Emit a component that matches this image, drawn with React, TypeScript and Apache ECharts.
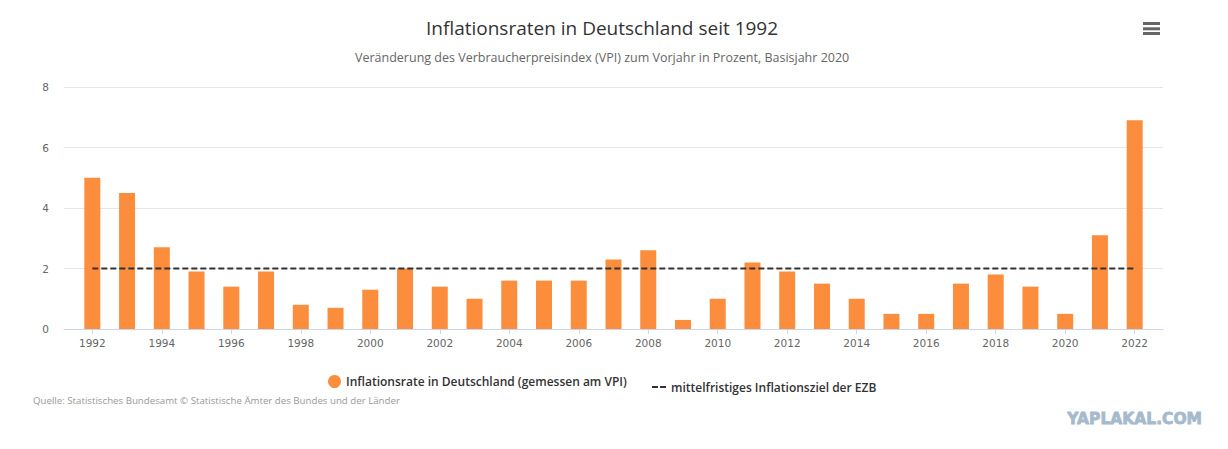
import React, { useEffect, useRef } from "react";
import * as echarts from "echarts";

const years = [1992, 1993, 1994, 1995, 1996, 1997, 1998, 1999, 2000, 2001, 2002, 2003, 2004, 2005, 2006, 2007, 2008, 2009, 2010, 2011, 2012, 2013, 2014, 2015, 2016, 2017, 2018, 2019, 2020, 2021, 2022];
const inflation = [5.0, 4.5, 2.7, 1.9, 1.4, 1.9, 0.8, 0.7, 1.3, 2.0, 1.4, 1.0, 1.6, 1.6, 1.6, 2.3, 2.6, 0.3, 1.0, 2.2, 1.9, 1.5, 1.0, 0.5, 0.5, 1.5, 1.8, 1.4, 0.5, 3.1, 6.9];
const ezbTarget = years.map(() => 2);
const tickYears = [1992, 1994, 1996, 1998, 2000, 2002, 2004, 2006, 2008, 2010, 2012, 2014, 2016, 2018, 2020, 2022];
const yTicks = [0, 2, 4, 6, 8];

const titleText = "Inflationsraten in Deutschland seit 1992";
const subtitleText = "Veränderung des Verbraucherpreisindex (VPI) zum Vorjahr in Prozent, Basisjahr 2020";
const barName = "Inflationsrate in Deutschland (gemessen am VPI)";
const lineName = "mittelfristiges Inflationsziel der EZB";
const sourceText = "Quelle: Statistisches Bundesamt © Statistische Ämter des Bundes und der Länder";

const FONT = "'Open Sans', 'DejaVu Sans', sans-serif";
const AXIS_FONT = "'DejaVu Sans', sans-serif";

export default function App() {
  const ref = useRef<HTMLDivElement>(null);
  useEffect(() => {
    document.body.style.margin = "0";
    if (!ref.current) return;
    const chart = echarts.init(ref.current, null, { renderer: "svg" });
    chart.setOption({
      animation: false,
      backgroundColor: "#ffffff",
      textStyle: { fontFamily: FONT },
      title: [
        {
          text: titleText,
          left: 421,
          top: 13,
          textStyle: { fontFamily: FONT, fontSize: 19, fontWeight: "normal", color: "#333333" },
        },
        {
          text: subtitleText,
          left: 350,
          top: 46,
          textStyle: { fontFamily: FONT, fontSize: 12.5, fontWeight: "normal", color: "#666666" },
        },
      ],
      legend: [
        {
          data: [{ name: barName, icon: "circle" }],
          left: 323,
          top: 370,
          itemWidth: 13,
          itemHeight: 13,
          selectedMode: false,
          textStyle: { fontFamily: FONT, fontSize: 12, fontWeight: 600, color: "#333333" },
        },
        {
          data: [{ name: lineName, icon: "path://M0,0h6v2h-6zM8,0h6v2h-6z" }],
          left: 647,
          top: 376,
          itemWidth: 14,
          itemHeight: 2,
          selectedMode: false,
          itemStyle: { color: "#333333" },
          textStyle: { fontFamily: FONT, fontSize: 12, fontWeight: 600, color: "#333333" },
        },
      ],
      grid: { left: 64, right: 65, top: 87, bottom: 120, containLabel: false },
      xAxis: {
        type: "value",
        min: 1991.185,
        max: 2022.815,
        splitLine: { show: false },
        axisLine: { show: true, lineStyle: { color: "#ccd6eb", width: 1 } },
        axisTick: { show: true, customValues: tickYears, length: 5, lineStyle: { color: "#ccd6eb" } },
        axisLabel: {
          customValues: tickYears,
          color: "#666666",
          fontSize: 10.5,
          fontFamily: AXIS_FONT,
          margin: 8,
          formatter: (v: number) => String(v),
        },
      },
      yAxis: {
        type: "value",
        min: 0,
        max: 8,
        interval: 2,
        axisLine: { show: false },
        axisTick: { show: false },
        splitLine: { show: true, lineStyle: { color: "#e6e6e6", width: 1 } },
        axisLabel: { color: "#666666", fontSize: 10.5, fontFamily: AXIS_FONT, margin: 15,
          formatter: (v: number) => (yTicks.includes(v) ? String(v) : "") },
      },
      series: [
        {
          name: barName,
          type: "bar",
          data: years.map((y, i) => [y, inflation[i]]),
          barWidth: 16,
          itemStyle: { color: "#fb8d3d" },
          z: 2,
        },
        {
          name: lineName,
          type: "line",
          data: years.map((y, i) => [y, ezbTarget[i]]),
          showSymbol: false,
          symbol: "none",
          lineStyle: { color: "#333333", width: 2, type: [6, 3] },
          itemStyle: { color: "#333333" },
          z: 5,
        },
      ],
      graphic: [
        { type: "rect", shape: { x: 1143, y: 22, width: 17, height: 3 }, style: { fill: "#666666" } },
        { type: "rect", shape: { x: 1143, y: 27.3, width: 17, height: 3 }, style: { fill: "#666666" } },
        { type: "rect", shape: { x: 1143, y: 32, width: 17, height: 3 }, style: { fill: "#666666" } },
        {
          type: "text",
          x: 33,
          y: 400,
          style: { text: sourceText, fill: "#999999", fontSize: 9.7, fontFamily: FONT, verticalAlign: "middle" },
        },
        {
          type: "text",
          x: 1202,
          y: 419,
          style: {
            text: "YAPLAKAL.COM",
            fill: "#a6bacd",
            stroke: "#a6bacd",
            lineWidth: 0.8,
            fontSize: 15.5,
            fontWeight: 900,
            fontFamily: "'DejaVu Sans', sans-serif",
            align: "right",
            verticalAlign: "middle",
          },
        },
      ],
    });
    return () => chart.dispose();
  }, []);
  return <div ref={ref} style={{ width: 1228, height: 449 }} />;
}
